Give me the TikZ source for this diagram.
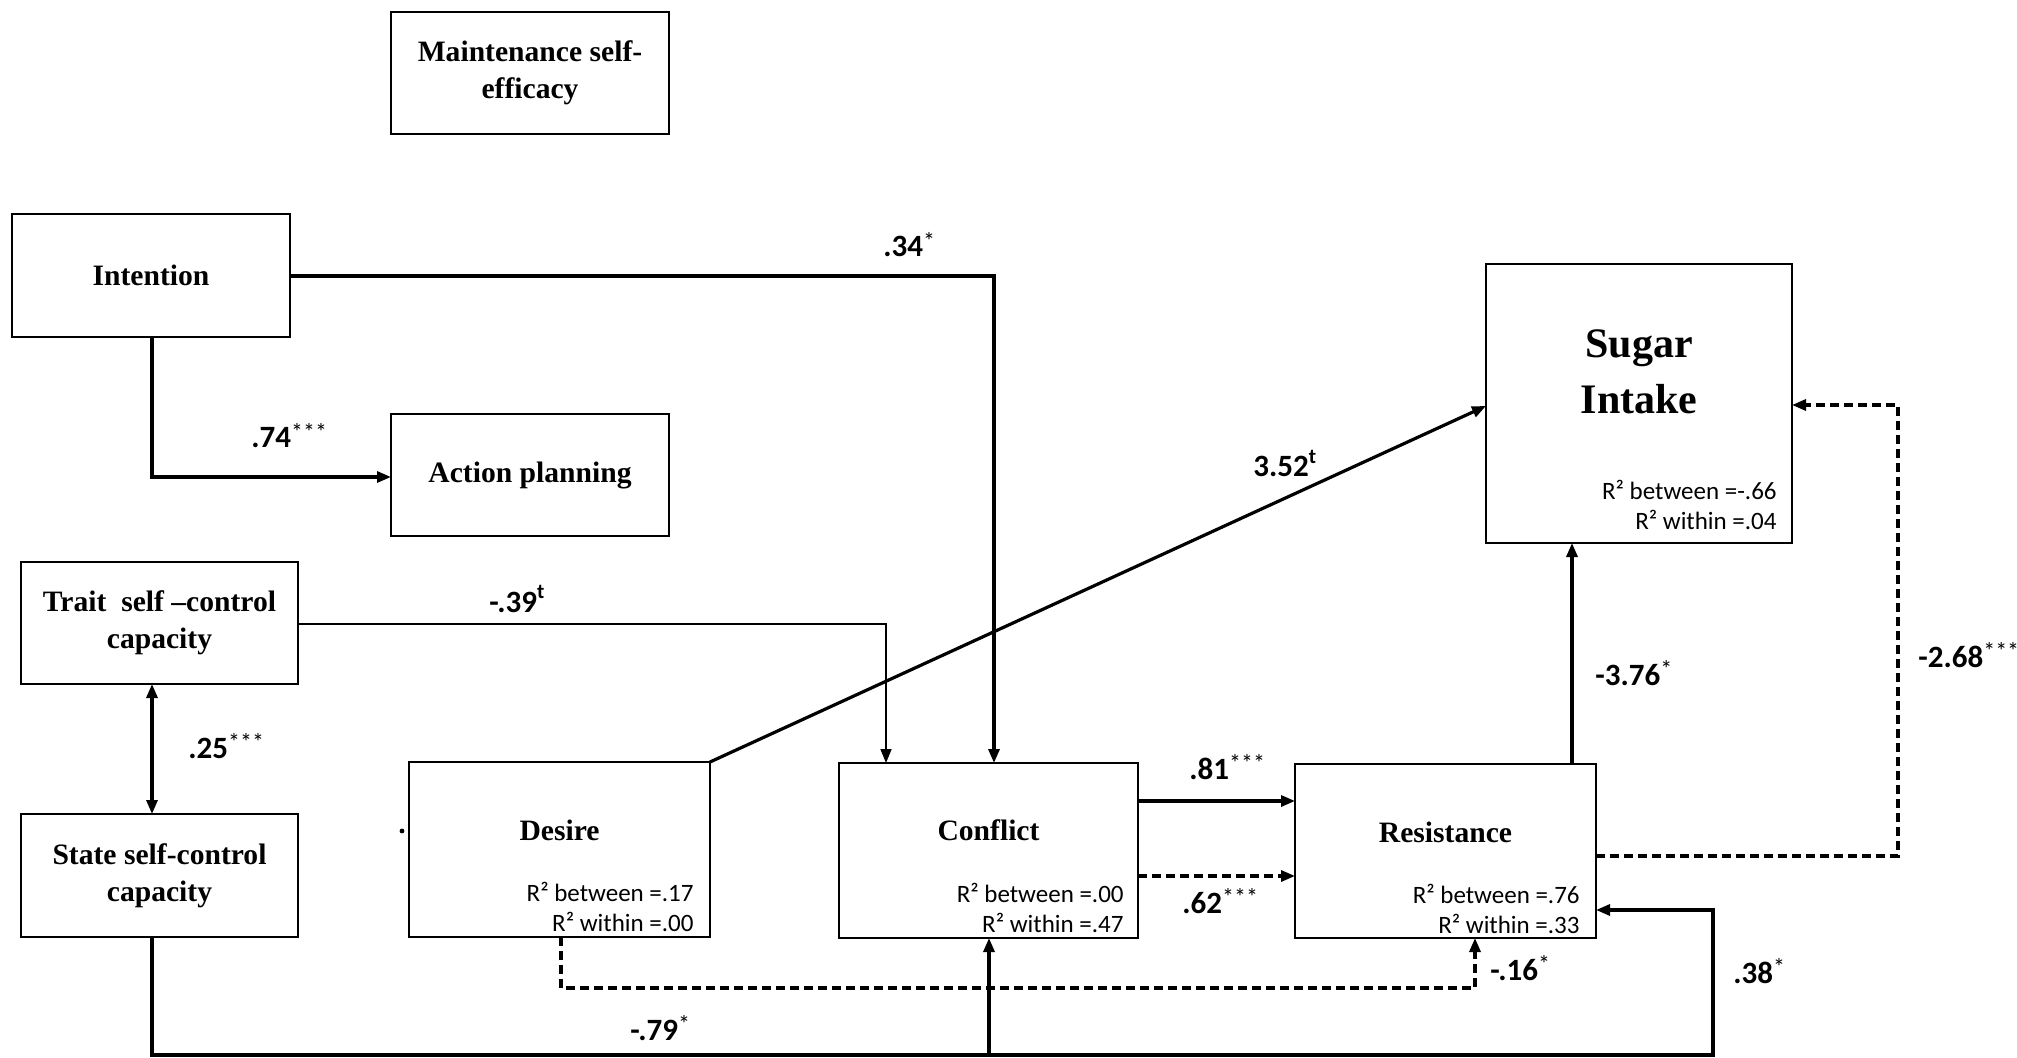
\documentclass[tikz,border=0pt]{standalone}
\usepackage{fontspec}
\setmainfont{Liberation Serif}
\newfontfamily\calib{Carlito}
\usetikzlibrary{arrows.meta}
\newcommand\ttl{\fontsize{14.8}{18.5}\selectfont\bfseries}
\newcommand\bigttl{\fontsize{21}{26}\selectfont\bfseries}
\newcommand\lbl{\calib\bfseries\fontsize{15.5}{18}\selectfont}
\newcommand\rtx{\calib\fontsize{12.5}{15}\selectfont}
\newcommand\sig[1]{\raisebox{0.25em}{\fontsize{12}{12}\selectfont\mdseries #1}}
\newcommand\sigt[1]{\raisebox{0.45em}{\fontsize{10.5}{10.5}\selectfont #1}}
\begin{document}
\begin{tikzpicture}[x=0.5pt,y=-0.5pt,
  box/.style={draw, line width=1.1pt, rectangle, inner sep=0pt, outer sep=0pt, align=center, font=\ttl},
  ttlnode/.style={inner sep=0pt, anchor=base, font=\ttl},
  lab/.style={inner sep=0pt, anchor=base west, font=\lbl},
  rsq/.style={inner sep=0pt, anchor=base east, font=\rtx},
  tip/.tip={Triangle[length=7pt,width=5.5pt]},
  arr/.style={line width=1.6pt, -tip},
  arrthin/.style={line width=0.8pt, -tip},
  darr/.style={line width=1.6pt, dash pattern=on 4.5pt off 2.5pt, -tip},
]
\useasboundingbox (0,0) rectangle (2017,1058);

% boxes
\node[box, minimum width=139pt, minimum height=61pt] (maint) at (530,73) {Maintenance self-\\efficacy};
\node[box, minimum width=139pt, minimum height=61.5pt] (intent) at (151,275.5) {Intention};
\node[box, minimum width=139pt, minimum height=61pt] (action) at (530,475) {Action planning};
\node[box, minimum width=138.5pt, minimum height=61pt] (trait) at (159.5,623) {Trait~~self –control\\capacity};
\node[box, minimum width=138.5pt, minimum height=61.5pt] (state) at (159.5,875.5) {State self-control\\capacity};
\node[box, minimum width=150.5pt, minimum height=87.5pt] (desire) at (559.5,849.5) {};
\node[box, minimum width=149.5pt, minimum height=87.5pt] (conflict) at (988.5,850.5) {};
\node[box, minimum width=150.5pt, minimum height=87pt] (resist) at (1445.5,851) {};
\node[box, minimum width=153pt, minimum height=139.5pt] (sugar) at (1639,403.5) {};

% titles inside tall boxes
\node[ttlnode] (desiret) at (559.5,840) {Desire};
\node[ttlnode] (conflictt) at (988.5,840) {Conflict};
\node[ttlnode] (resistt) at (1445.5,842) {Resistance};
\node[ttlnode, font=\bigttl] (sugart1) at (1639,358) {Sugar};
\node[ttlnode, font=\bigttl] (sugart2) at (1639,414) {Intake};

% R squared
\node[rsq] (dr1) at (694,901) {R² between =.17};
\node[rsq] (dr2) at (694,931) {R² within =.00};
\node[rsq] (cr1) at (1124,902) {R² between =.00};
\node[rsq] (cr2) at (1124,932) {R² within =.47};
\node[rsq] (rr1) at (1580,903) {R² between =.76};
\node[rsq] (rr2) at (1580,933) {R² within =.33};
\node[rsq] (sr1) at (1777,500) {R² between =-.66};
\node[rsq] (sr2) at (1777,530) {R² within =.04};

% small dot left of Desire
\node[circle, fill, inner sep=0pt, minimum size=2.4pt] (dot) at (402,831) {};

% helper coordinates
\coordinate (c1) at (994,276);
\coordinate (c2) at (886,624);
\coordinate (c3) at (152,0);
\coordinate (c4) at (0,406);
\coordinate (c5) at (0,801);
\coordinate (c6) at (0,876);
\coordinate (c7) at (1572,0);
\coordinate (c8) at (1898,856);
\coordinate (c9) at (1898,405);
\coordinate (c10) at (561,988);
\coordinate (c11) at (1475,988);
\coordinate (c12) at (152,1055);
\coordinate (c13) at (1713,1055);
\coordinate (c14) at (1713,910);
\coordinate (c15) at (989,1055);
\coordinate (c16) at (0,477);

% connectors
\draw[arr] (intent.east |- c1) -| (conflict.north -| c1);
\draw[arr] (intent.south -| c3) |- (action.west |- c16);
\draw[arrthin] (trait.east |- c2) -| (conflict.north -| c2);
\draw[line width=1.6pt, tip-tip] (trait.south -| c3) -- (state.north -| c3);
\draw[arr] (desire.north east) -- (sugar.west |- c4);
\draw[arr] (conflict.east |- c5) -- (resist.west |- c5);
\draw[darr] (conflict.east |- c6) -- (resist.west |- c6);
\draw[arr] (resist.north -| c7) -- (sugar.south -| c7);
\draw[darr] (resist.east |- c8) -- (c8) -- (c9) -- (sugar.east |- c9);
\draw[darr] (desire.south -| c10) -- (c10) -- (c11) -- (resist.south -| c11);
\draw[arr] (state.south -| c12) -- (c12) -- (c13) -- (c14) -- (resist.east |- c14);
\draw[arr] (c15) -- (conflict.south -| c15);

% labels
\node[lab] (l34) at (883,257) {.34\sig{*}};
\node[lab] (l74) at (251,448) {.74\sig{***}};
\node[lab] (l39) at (489,612) {-.39\sigt{t}};
\node[lab] (l25) at (188,758) {.25\sig{***}};
\node[lab] (l352) at (1253,477) {3.52\sigt{t}};
\node[lab] (l81) at (1189,779) {.81\sig{***}};
\node[lab] (l62) at (1182,913) {.62\sig{***}};
\node[lab] (l376) at (1595,685) {-3.76\sig{*}};
\node[lab] (l268) at (1918,667) {-2.68\sig{***}};
\node[lab] (l16) at (1490,980) {-.16\sig{*}};
\node[lab] (l38) at (1733,983) {.38\sig{*}};
\node[lab] (l79) at (630,1040) {-.79\sig{*}};
\end{tikzpicture}
\end{document}
